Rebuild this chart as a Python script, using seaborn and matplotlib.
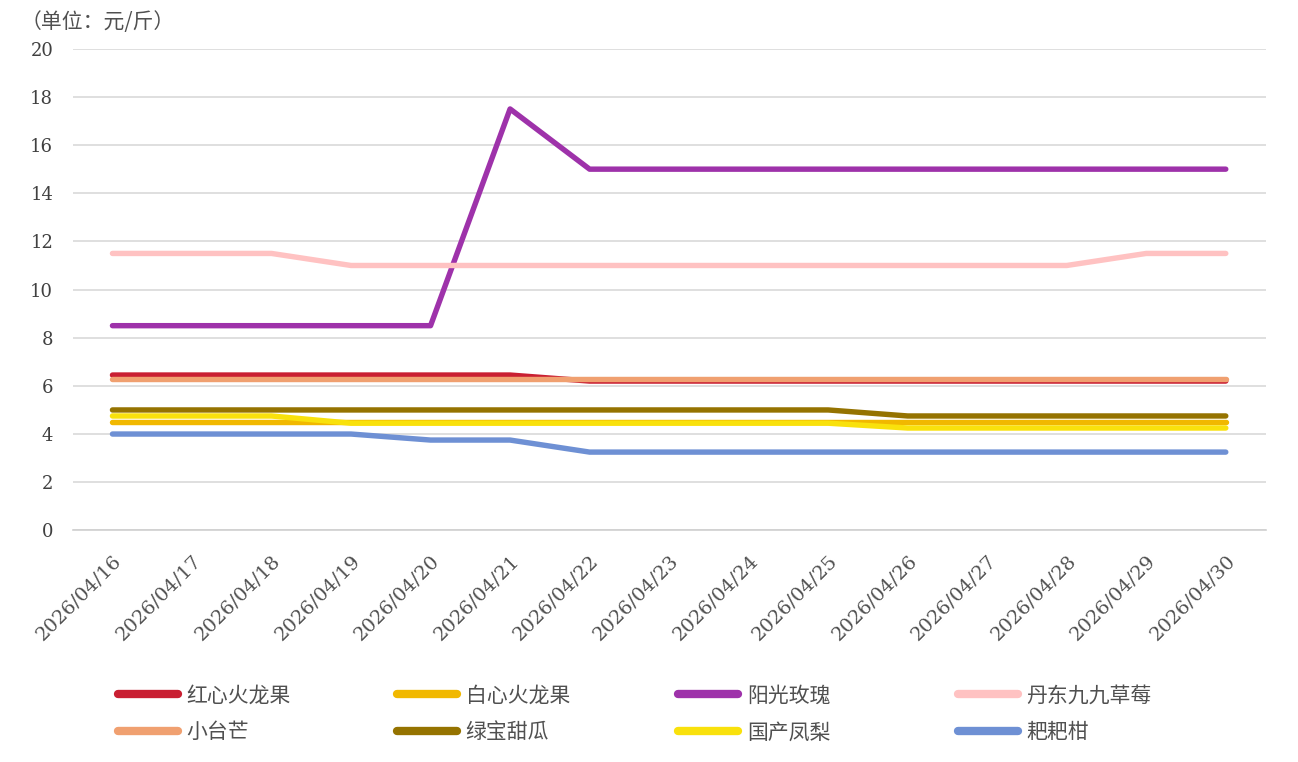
import pandas as pd
import numpy as np
import matplotlib.pyplot as plt
import seaborn as sns

dates = ["2026/04/16", "2026/04/17", "2026/04/18", "2026/04/19", "2026/04/20",
         "2026/04/21", "2026/04/22", "2026/04/23", "2026/04/24", "2026/04/25",
         "2026/04/26", "2026/04/27", "2026/04/28", "2026/04/29", "2026/04/30"]

hongxin = [6.45, 6.45, 6.45, 6.45, 6.45, 6.45, 6.2, 6.2, 6.2, 6.2, 6.2, 6.2, 6.2, 6.2, 6.2]
baixin = [4.5, 4.5, 4.5, 4.5, 4.5, 4.5, 4.5, 4.5, 4.5, 4.5, 4.5, 4.5, 4.5, 4.5, 4.5]
yangguang = [8.5, 8.5, 8.5, 8.5, 8.5, 17.5, 15, 15, 15, 15, 15, 15, 15, 15, 15]
caomei = [11.5, 11.5, 11.5, 11, 11, 11, 11, 11, 11, 11, 11, 11, 11, 11.5, 11.5]
xiaotaimang = [6.3] * 15
tiangua = [5, 5, 5, 5, 5, 5, 5, 5, 5, 5, 4.75, 4.75, 4.75, 4.75, 4.75]
fengli = [4.75, 4.75, 4.75, 4.45, 4.45, 4.45, 4.45, 4.45, 4.45, 4.45, 4.25, 4.25, 4.25, 4.25, 4.25]
bbgan = [4, 4, 4, 4, 3.75, 3.75, 3.25, 3.25, 3.25, 3.25, 3.25, 3.25, 3.25, 3.25, 3.25]

names = ["红心火龙果", "白心火龙果", "阳光玫瑰", "丹东九九草莓",
         "小台芒", "绿宝甜瓜", "国产凤梨", "耙耙柑"]
series = [hongxin, baixin, yangguang, caomei, xiaotaimang, tiangua, fengli, bbgan]
colors = ["#C91F32", "#F1B800", "#9E32AA", "#FFC2C2",
          "#F0A070", "#957300", "#F9E10C", "#6E90D4"]

rows = []
for name, vals in zip(names, series):
    for i, v in enumerate(vals):
        rows.append({"x": i, "price": v, "fruit": name})
df = pd.DataFrame(rows)

sns.set_style("white")
plt.rcParams['font.family'] = ['Noto Sans CJK SC', 'DejaVu Sans']

fig, ax = plt.subplots(figsize=(12.98, 7.62), dpi=100)
fig.subplots_adjust(left=0.056, right=0.975, top=0.936, bottom=0.304)

sns.lineplot(data=df, x="x", y="price", hue="fruit", hue_order=names,
             palette=dict(zip(names, colors)), linewidth=3.9, ax=ax,
             legend=False)
for ln in ax.get_lines():
    ln.set_solid_capstyle("round")
    ln.set_solid_joinstyle("round")

ax.set_xlim(-0.5, len(dates) - 0.5)
ax.set_ylim(0, 20)
ax.set_yticks(np.arange(0, 21, 2))
ax.yaxis.grid(True, color="#d9d9d9", linewidth=1.2)
ax.set_axisbelow(True)
for s in ["top", "right", "left"]:
    ax.spines[s].set_visible(False)
ax.spines["bottom"].set_color("#d0d0d0")
ax.spines["bottom"].set_linewidth(1.2)

ax.set_xticks(range(len(dates)))
ax.set_xticklabels(dates, rotation=45, ha="right", va="top",
                   rotation_mode="anchor", family="DejaVu Serif",
                   fontsize=14, color="#505050")
ax.set_xticks(np.arange(-0.5, len(dates), 1), minor=True)
ax.tick_params(axis="x", which="major", length=0, pad=15)
ax.tick_params(axis="x", which="minor", length=7, color="#d0d0d0", width=1.2)
ax.tick_params(axis="y", length=0, pad=14)
for t in ax.get_yticklabels():
    t.set_family("DejaVu Serif")
    t.set_fontsize(13)
    t.set_color("#404040")
ax.set_xlabel("")
ax.set_ylabel("")

fig.text(0.016, 0.971, "（单位：元/斤）", fontsize=15, color="#505050",
         ha="left", va="center")

# legend: 4 columns of 2 rows, evenly spaced
col_x = [118, 397, 678, 958]
for c in range(4):
    idx = [c, c + 4]
    hs = [plt.Line2D([], [], color=colors[i], linewidth=6,
                     solid_capstyle="round") for i in idx]
    fig.legend(hs, [names[i] for i in idx], loc="center left",
               bbox_to_anchor=(col_x[c] / 1298, 0.063), frameon=False,
               fontsize=15, handlelength=2.9, handletextpad=0.4,
               labelspacing=0.7, borderpad=0, borderaxespad=0,
               labelcolor="#505050")

fig.savefig("out.png", dpi=100)
